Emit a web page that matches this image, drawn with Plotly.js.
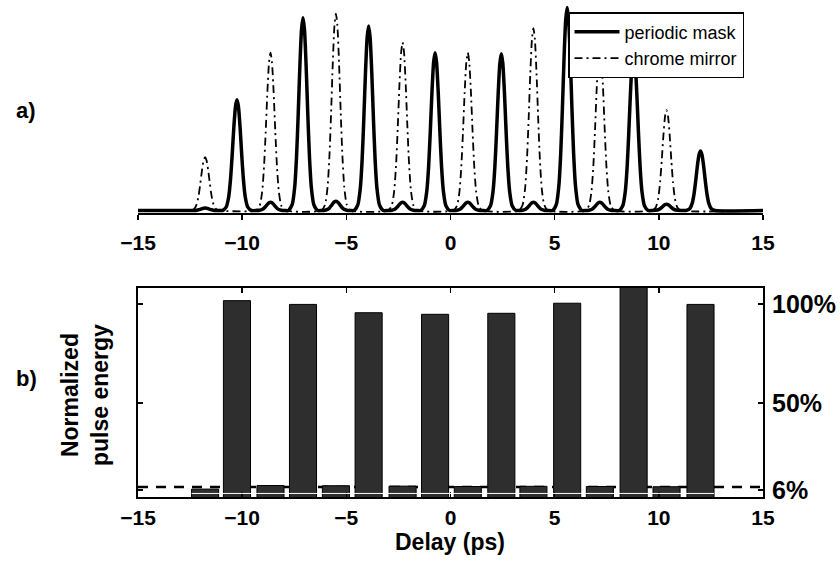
<!DOCTYPE html>
<html>
<head>
<meta charset="utf-8">
<script src="https://cdn.plot.ly/plotly-3.0.1.min.js"></script>
<style>html,body{margin:0;padding:0;background:#fff;}#chart{width:840px;height:566px;}</style>
</head>
<body>
<div id="chart"></div>
<script>
// ---- data ----
const delayTicks = [-15, -10, -5, 0, 5, 10, 15];
const delayTickText = ['\u221215', '\u221210', '\u22125', '0', '5', '10', '15'];

// (a) pulse trains: centres (ps) and normalised peak heights
const maskDelays = [-10.25, -7.08, -3.93, -0.74, 2.44, 5.6, 8.79, 12.0];
const maskPeaks = [0.54, 0.94, 0.90, 0.77, 0.765, 0.99, 0.77, 0.29];
const chromeDelays = [-11.78, -8.64, -5.5, -2.3, 0.83, 3.98, 7.17, 10.37];
const chromePeaks = [0.26, 0.77, 0.96, 0.82, 0.77, 0.89, 0.80, 0.49];
const maskSatellitePeaks = [0.012, 0.04, 0.045, 0.04, 0.04, 0.04, 0.04, 0.03];
// single-pulse profile (offset in ps, relative height)
const pulseOffsets = [-0.7, -0.52, -0.4, -0.31, -0.23, -0.15, -0.07, 0, 0.07, 0.15, 0.23, 0.31, 0.4, 0.52, 0.7];
const pulseShape = [0, 0.03, 0.12, 0.28, 0.5, 0.75, 0.94, 1, 0.94, 0.75, 0.5, 0.28, 0.12, 0.03, 0];

// (b) normalised pulse energy (%)
const maskEnergy = [101.8, 99.9, 95.7, 94.9, 95.4, 100.5, 112, 99.9];
const satelliteEnergy = [6.5, 8.3, 8.2, 8.0, 7.8, 7.9, 7.8, 7.7];
const thresholdLevel = 7.5;
const energyTicks = [6, 50, 100];
const energyTickText = ['6%', '50%', '100%'];
const barWidth = 1.3;

// ---- build traces ----
function pulseTrain(centres, heights) {
  const pairs = centres.map((c, i) => [c, heights[i]]).sort((a, b) => a[0] - b[0]);
  const xs = [-15], ys = [0];
  pairs.forEach(([c, h]) => {
    pulseOffsets.forEach((o, k) => { xs.push(c + o); ys.push(h * pulseShape[k]); });
  });
  xs.push(15); ys.push(0);
  return { x: xs, y: ys };
}
const maskTrain = pulseTrain(maskDelays.concat(chromeDelays), maskPeaks.concat(maskSatellitePeaks));
const chromeTrain = pulseTrain(chromeDelays, chromePeaks);

const FONT = 'Liberation Sans, Arial, Helvetica, sans-serif';

const traces = [
  { type: 'scatter', mode: 'lines', name: 'periodic mask', x: maskTrain.x, y: maskTrain.y,
    xaxis: 'x', yaxis: 'y', cliponaxis: false,
    line: { color: 'black', width: 3.5, shape: 'spline', smoothing: 0.6 } },
  { type: 'scatter', mode: 'lines', name: 'chrome mirror', x: chromeTrain.x, y: chromeTrain.y,
    xaxis: 'x', yaxis: 'y', cliponaxis: false,
    line: { color: 'black', width: 1.8, dash: '8px,4px,2px,4px', shape: 'spline', smoothing: 0.6 } },
  { type: 'bar', x: chromeDelays, y: satelliteEnergy, width: barWidth, xaxis: 'x2', yaxis: 'y2',
    showlegend: false, marker: { color: '#2e2e2e', line: { color: 'black', width: 1 } } },
  { type: 'bar', x: maskDelays, y: maskEnergy, width: barWidth, xaxis: 'x2', yaxis: 'y2',
    showlegend: false, marker: { color: '#2e2e2e', line: { color: 'black', width: 1 } } }
];

const tickFont = { family: FONT, size: 21, weight: 700, color: 'black' };
const xDom = [138 / 840, 763 / 840];

const layout = {
  width: 840, height: 566,
  margin: { l: 0, r: 0, t: 0, b: 0 },
  paper_bgcolor: 'white', plot_bgcolor: 'white',
  font: { family: FONT, color: 'black' },
  barmode: 'overlay',
  showlegend: true,
  legend: {
    x: 568 / 840, y: 1 - 12 / 566, xanchor: 'left', yanchor: 'top',
    bgcolor: 'white', bordercolor: 'black', borderwidth: 1.5,
    font: { family: FONT, size: 18, color: 'black' }, itemwidth: 45
  },
  xaxis: {
    domain: xDom, anchor: 'y', range: [-15, 15], tickvals: delayTicks, ticktext: delayTickText,
    ticks: 'outside', ticklen: 5, tickwidth: 1.5, tickcolor: 'black',
    showline: true, linewidth: 1.5, linecolor: 'black', showgrid: false, zeroline: false,
    tickfont: tickFont, ticklabelstandoff: 5, fixedrange: true
  },
  yaxis: {
    domain: [1 - 213 / 566, 1 - 2 / 566], anchor: 'x', range: [-0.0122, 1.017], visible: false, fixedrange: true
  },
  xaxis2: {
    domain: xDom, anchor: 'y2', range: [-15, 15], tickvals: delayTicks, ticktext: delayTickText,
    ticks: 'inside', ticklen: 5, tickwidth: 1.5, tickcolor: 'black', mirror: 'ticks',
    showline: true, linewidth: 2, linecolor: 'black', showgrid: false, zeroline: false,
    tickfont: tickFont, ticklabelstandoff: 1,
    fixedrange: true
  },
  yaxis2: {
    domain: [1 - 497 / 566, 1 - 288 / 566], anchor: 'x2', side: 'right', range: [2.5, 108.2],
    tickvals: energyTicks, ticktext: energyTickText,
    ticks: 'inside', ticklen: 5, tickwidth: 1.5, tickcolor: 'black', mirror: 'ticks',
    showline: true, linewidth: 2, linecolor: 'black', showgrid: false, zeroline: false,
    tickfont: { family: FONT, size: 25, weight: 700, color: 'black' }, ticklabelstandoff: 2,
    fixedrange: true
  },
  shapes: [
    { type: 'line', xref: 'x2 domain', yref: 'y2', x0: 0, x1: 1, y0: thresholdLevel, y1: thresholdLevel,
      layer: 'below', line: { color: 'black', width: 2.5, dash: '10px,8px' } },
    { type: 'line', xref: 'x2', yref: 'y2',
      x0: Math.min(...chromeDelays) - barWidth / 2, x1: Math.max(...maskDelays) + barWidth / 2,
      y0: 4.3, y1: 4.3, layer: 'above', line: { color: 'white', width: 1 } }
  ],
  annotations: [
    { text: 'a)', xref: 'paper', yref: 'paper', x: 14 / 840, y: 1 - 110 / 566, xanchor: 'left', yanchor: 'middle',
      showarrow: false, font: { family: FONT, size: 22, weight: 700, color: 'black' } },
    { text: 'b)', xref: 'paper', yref: 'paper', x: 14 / 840, y: 1 - 378 / 566, xanchor: 'left', yanchor: 'middle',
      showarrow: false, font: { family: FONT, size: 22, weight: 700, color: 'black' } },
    { text: 'Normalized<br>pulse energy', xref: 'paper', yref: 'paper', x: 85 / 840, y: 1 - 395 / 566,
      xanchor: 'center', yanchor: 'middle', textangle: -90, showarrow: false,
      font: { family: FONT, size: 23, weight: 700, color: 'black' } },
    { text: 'Delay (ps)', xref: 'paper', yref: 'paper', x: 450 / 840, y: 1 - 542 / 566,
      xanchor: 'center', yanchor: 'middle', showarrow: false,
      font: { family: FONT, size: 23, weight: 700, color: 'black' } }
  ]
};

Plotly.newPlot('chart', traces, layout, { staticPlot: true, displayModeBar: false });
</script>
</body>
</html>
